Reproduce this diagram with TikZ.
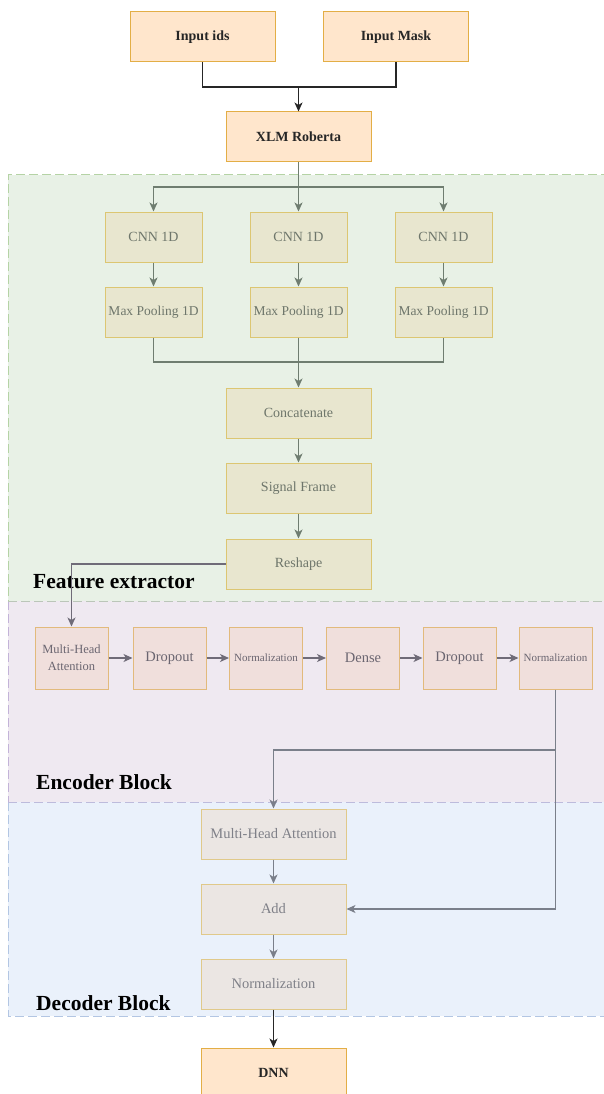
\documentclass[tikz,border=0pt]{standalone}
\usepackage{fontspec}
\setmainfont{Liberation Serif}
\usetikzlibrary{arrows.meta}
\definecolor{grnfill}{HTML}{E8F1E6}
\definecolor{grnedge}{HTML}{B5D3A5}
\definecolor{purfill}{HTML}{EFE9F1}
\definecolor{puredge}{HTML}{C3B3D8}
\definecolor{blufill}{HTML}{EAF1FB}
\definecolor{bluedge}{HTML}{B3C6E3}
\definecolor{orfill}{HTML}{FFE6CC}
\definecolor{oredge}{HTML}{E3AE46}
\definecolor{cnnfill}{HTML}{E8E6CF}
\definecolor{cnnedge}{HTML}{DCC672}
\definecolor{cnntext}{HTML}{6E766B}
\definecolor{cnnline}{HTML}{6F7D70}
\definecolor{encfill}{HTML}{F0DFDC}
\definecolor{encedge}{HTML}{E2BA7C}
\definecolor{enctext}{HTML}{6A6570}
\definecolor{encline}{HTML}{6F6B78}
\definecolor{decfill}{HTML}{EBE6E3}
\definecolor{decedge}{HTML}{E0C98A}
\definecolor{dectext}{HTML}{7F8088}
\definecolor{decline}{HTML}{7A7F8A}
\begin{document}
\begin{tikzpicture}[x=1pt,y=-1pt,
  orbox/.style={draw=oredge,fill=orfill,line width=1pt,minimum width=145pt,minimum height=50pt,inner sep=0pt,font=\fontsize{14}{16}\selectfont\bfseries,text=black!85},
  cnnbox/.style={draw=cnnedge,fill=cnnfill,line width=1pt,minimum width=97pt,minimum height=50pt,inner sep=0pt,font=\fontsize{14}{16}\selectfont,text=cnntext},
  widebox/.style={cnnbox,minimum width=145pt},
  encbox/.style={draw=encedge,fill=encfill,line width=1pt,minimum width=73pt,minimum height=62pt,inner sep=0pt,font=\fontsize{14.5}{16}\selectfont,text=enctext,align=center},
  decbox/.style={draw=decedge,fill=decfill,line width=1pt,minimum width=145pt,minimum height=50pt,inner sep=0pt,font=\fontsize{14.5}{16}\selectfont,text=dectext},
  tip/.style={-{Stealth[length=9pt,width=8pt,inset=2.5pt]}},
  blk/.style={draw=black!85,line width=1.2pt},
  gline/.style={draw=cnnline,line width=1.2pt},
  eline/.style={draw=encline,line width=1.2pt},
  dline/.style={draw=decline,line width=1.2pt},
  regionlabel/.style={anchor=west,inner sep=0pt,font=\fontsize{21.5}{24}\selectfont\bfseries,text=black}
]
\useasboundingbox (0,0) rectangle (604,1094);
\fill[white] (0,0) rectangle (604,1094);
% regions
\fill[grnfill] (8,175) rectangle (610,601);
\fill[purfill] (8,601) rectangle (610,802);
\fill[blufill] (8,802) rectangle (610,1016);
\draw[grnedge,line width=1pt,dash pattern=on 9pt off 4pt] (610,175) -- (8,175) -- (8,601);
\draw[puredge,line width=1pt,dash pattern=on 9pt off 4pt] (8,601) -- (8,802);
\draw[grnedge!60!puredge,line width=1pt,dash pattern=on 9pt off 4pt] (8,601) -- (610,601);
\draw[bluedge,line width=1pt,dash pattern=on 9pt off 4pt] (8,802) -- (8,1016) -- (610,1016);
\draw[puredge!60!bluedge,line width=1pt,dash pattern=on 9pt off 4pt] (8,802) -- (610,802);

% top boxes
\node[orbox] (ids) at (202.5,37) {Input ids};
\node[orbox] (mask) at (396,37) {Input Mask};
\node[orbox] (xlm) at (298.5,137) {XLM Roberta};

% feature extractor
\node[cnnbox] (cnn1) at (153.5,237) {CNN 1D};
\node[cnnbox] (cnn2) at (298.5,237) {CNN 1D};
\node[cnnbox] (cnn3) at (443.5,237) {CNN 1D};
\node[cnnbox,font=\fontsize{13.5}{16}\selectfont] (mp1) at (153.5,312) {Max Pooling 1D};
\node[cnnbox,font=\fontsize{13.5}{16}\selectfont] (mp2) at (298.5,312) {Max Pooling 1D};
\node[cnnbox,font=\fontsize{13.5}{16}\selectfont] (mp3) at (443.5,312) {Max Pooling 1D};
\node[widebox] (concat) at (298.5,413) {Concatenate};
\node[widebox] (signal) at (298.5,488) {Signal Frame};
\node[widebox] (reshape) at (298.5,564) {Reshape};
\node[regionlabel] (lblF) at (33,582) {Feature extractor};

% encoder
\node[encbox,font=\fontsize{12.5}{17}\selectfont] (e1) at (71.5,658) {Multi-Head\\Attention};
\node[encbox] (e2) at (169.5,658) {Dropout};
\node[encbox,font=\fontsize{11}{13}\selectfont] (e3) at (266,658) {Normalization};
\node[encbox] (e4) at (363,658) {Dense};
\node[encbox] (e5) at (459.5,658) {Dropout};
\node[encbox,font=\fontsize{11}{13}\selectfont] (e6) at (555.5,658) {Normalization};
\node[regionlabel] (lblE) at (36,782) {Encoder Block};

% decoder
\node[decbox] (d1) at (273.5,834) {Multi-Head Attention};
\node[decbox] (d2) at (273.5,909) {Add};
\node[decbox] (d3) at (273.5,984) {Normalization};
\node[regionlabel] (lblD) at (36,1003) {Decoder Block};
\node[orbox] (dnn) at (273.5,1073) {DNN};

% junctions
\coordinate (j1) at (298.5,87);
\coordinate (j2) at (298.5,187);
\coordinate (j3) at (298.5,362);
\coordinate (j5) at (555.5,750);

% connectors top
\draw[blk] (ids.south) |- (j1) -| (mask.south);
\draw[blk,tip] (j1) -- (xlm.north);
% feature extractor connectors
\draw[gline,tip] (xlm.south) -- (cnn2.north);
\draw[gline,tip] (j2) -| (cnn1.north);
\draw[gline,tip] (j2) -| (cnn3.north);
\draw[gline,tip] (cnn1) -- (mp1);
\draw[gline,tip] (cnn2) -- (mp2);
\draw[gline,tip] (cnn3) -- (mp3);
\draw[gline] (mp1.south) |- (j3) -| (mp3.south);
\draw[gline,tip] (mp2.south) -- (concat.north);
\draw[gline,tip] (concat) -- (signal);
\draw[gline,tip] (signal) -- (reshape);
\draw[eline,tip] (reshape.west) -| (e1.north);
% encoder connectors
\draw[eline,tip] (e1) -- (e2);
\draw[eline,tip] (e2) -- (e3);
\draw[eline,tip] (e3) -- (e4);
\draw[eline,tip] (e4) -- (e5);
\draw[eline,tip] (e5) -- (e6);
\draw[dline,tip] (e6.south) |- (d2.east);
\draw[dline,tip] (j5) -| (d1.north);
% decoder connectors
\draw[dline,tip] (d1) -- (d2);
\draw[dline,tip] (d2) -- (d3);
\draw[blk,tip] (d3) -- (dnn);
\end{tikzpicture}
\end{document}
